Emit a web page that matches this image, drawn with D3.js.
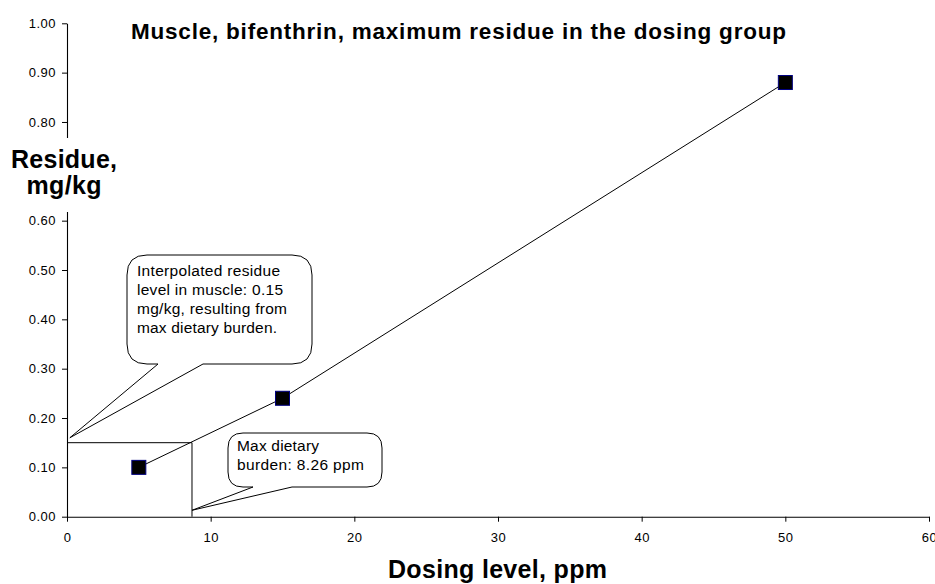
<!DOCTYPE html>
<html><head><meta charset="utf-8">
<script src="https://cdn.jsdelivr.net/npm/d3@7"></script>
<style>body{margin:0;background:#fff}svg{display:block}text{font-family:Arial,"Liberation Sans",sans-serif}</style>
</head><body>
<svg id="c" width="935" height="584"></svg>
<script>
const dosing = [5, 15, 50];
const residue = [0.10, 0.24, 0.88];
const xTicks = [0, 10, 20, 30, 40, 50, 60];
const yTicks = [0, 0.1, 0.2, 0.3, 0.4, 0.5, 0.6, 0.7, 0.8, 0.9, 1.0];
const interpX = [8.7];
const interpY = [0.15];
const title = "Muscle, bifenthrin, maximum residue in the dosing group";
const xTitle = "Dosing level, ppm";
const yTitle = ["Residue,", "mg/kg"];
const note1 = ["Interpolated residue", "level in muscle: 0.15", "mg/kg, resulting from", "max dietary burden."];
const note2 = ["Max dietary", "burden: 8.26 ppm"];

const svg = d3.select("#c");
const x = d3.scaleLinear().domain([0, 60]).range([67, 929]);
const y = d3.scaleLinear().domain([0, 1]).range([516.7, 23.3]);

// axes
const ya = svg.append("g").attr("transform", "translate(67,0)")
  .call(d3.axisLeft(y).tickValues(yTicks).tickFormat(d3.format(".2f")).tickSize(5).tickSizeOuter(0));
const xa = svg.append("g").attr("transform", "translate(0,516.7)")
  .call(d3.axisBottom(x).tickValues(xTicks).tickFormat(d3.format("d")).tickSize(5).tickSizeOuter(0));
[ya, xa].forEach(a => {
  a.select(".domain").attr("stroke", "#000").attr("stroke-width", 1.1);
  a.selectAll(".tick line").attr("stroke", "#000");
  a.selectAll(".tick text").attr("fill", "#000").style("font-size", "13px")
    .style("letter-spacing", "0.5px").style("font-family", "Arial, 'Liberation Sans', sans-serif");
});
ya.selectAll(".tick text").attr("x", -11);
xa.selectAll(".tick text").attr("y", 25).attr("dy", 0);

// interpolation lines
const ix = x(interpX[0]), iy = y(interpY[0]);
svg.append("path").attr("fill", "none").attr("stroke", "#000").attr("stroke-width", 1)
  .attr("d", `M${x(0)},${iy}H${ix}V${y(0)}`);

// data line
const pts = dosing.map((d, i) => [x(d), y(residue[i])]);
svg.append("path").attr("fill", "none").attr("stroke", "#000").attr("stroke-width", 1)
  .attr("d", d3.line()(pts));

// markers
svg.selectAll("rect.m").data(pts).join("rect").attr("class", "m")
  .attr("x", d => d[0] - 7).attr("y", d => d[1] - 7).attr("width", 14).attr("height", 14)
  .attr("fill", "#000").attr("stroke", "#000080").attr("stroke-width", 1);

// callout helper
function callout(x0, y0, x1, y1, r, t1, t2, tip) {
  const p = d3.path();
  p.moveTo(x0 + r, y0);
  p.lineTo(x1 - r, y0);
  p.quadraticCurveTo(x1, y0, x1, y0 + r);
  p.lineTo(x1, y1 - r);
  p.quadraticCurveTo(x1, y1, x1 - r, y1);
  p.lineTo(t2, y1);
  p.lineTo(tip[0], tip[1]);
  p.lineTo(t1, y1);
  p.lineTo(x0 + r, y1);
  p.quadraticCurveTo(x0, y1, x0, y1 - r);
  p.lineTo(x0, y0 + r);
  p.quadraticCurveTo(x0, y0, x0 + r, y0);
  p.closePath();
  svg.append("path").attr("d", p.toString()).attr("fill", "#fff").attr("stroke", "#000").attr("stroke-width", 1);
}
callout(127, 255, 312, 364, 20, 158, 203, [x(0.2), y(0.16)]);
callout(228, 433, 382, 487, 15, 253, 292, [x(interpX[0]), y(0.013)]);

const w1 = [143, 146, 150, 140];
svg.append("g").selectAll("text").data(note1).join("text")
  .attr("x", 137).attr("y", (d, i) => 276 + i * 19)
  .attr("textLength", (d, i) => w1[i]).attr("lengthAdjust", "spacing")
  .style("font-size", "15.5px").text(d => d);
const w2 = [82, 127];
svg.append("g").selectAll("text").data(note2).join("text")
  .attr("x", 237).attr("y", (d, i) => 450.5 + i * 19.5)
  .attr("textLength", (d, i) => w2[i]).attr("lengthAdjust", "spacing")
  .style("font-size", "15.5px").text(d => d);

// y title with white background
svg.append("rect").attr("x", 4).attr("y", 138).attr("width", 124).attr("height", 74).attr("fill", "#fff");
const wy = [106, 75];
svg.append("g").selectAll("text").data(yTitle).join("text")
  .attr("x", 64).attr("y", (d, i) => 168 + i * 25.5).attr("text-anchor", "middle")
  .attr("textLength", (d, i) => wy[i]).attr("lengthAdjust", "spacing")
  .style("font-size", "25px").style("font-weight", "bold").text(d => d);

svg.append("text").attr("x", 131).attr("y", 39)
  .attr("textLength", 655).attr("lengthAdjust", "spacing")
  .style("font-size", "22.5px").style("font-weight", "bold").text(title);
svg.append("text").attr("x", 497.5).attr("y", 578).attr("text-anchor", "middle")
  .attr("textLength", 219).attr("lengthAdjust", "spacing")
  .style("font-size", "25px").style("font-weight", "bold").text(xTitle);
</script>
</body></html>
